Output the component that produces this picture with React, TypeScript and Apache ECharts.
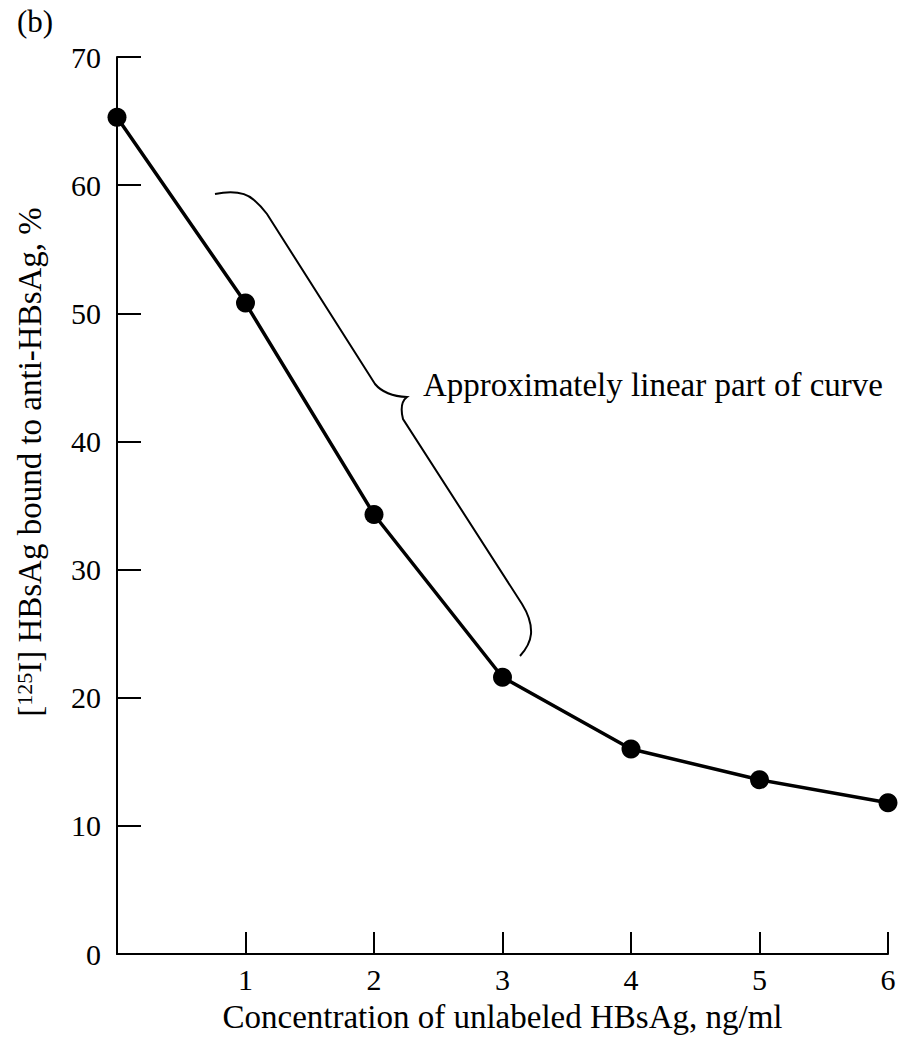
import React, { useEffect, useRef } from "react";
import * as echarts from "echarts";

const concentration = [0, 1, 2, 3, 4, 5, 6];
const boundPercent = [65.3, 50.8, 34.3, 21.6, 16.0, 13.6, 11.8];
const xTicks = [0, 1, 2, 3, 4, 5, 6];
const yTicks = [0, 10, 20, 30, 40, 50, 60, 70];
const panelLabel = "(b)";
const xTitle = "Concentration of unlabeled HBsAg, ng/ml";
const annotation = "Approximately linear part of curve";

const FONT = "Liberation Serif";

const bracePath =
  "M215,194 C230,191 244,191 254,200 Q261,206 267,214 L375,384 Q385,396 407,397 Q399,403 403,419 L522,604 Q532,620 531,634 Q530,645 520,656";

echarts.graphic.registerShape(
  "brace",
  echarts.graphic.extendPath(bracePath, {}) as any
);

export default function App() {
  const ref = useRef<HTMLDivElement>(null);
  useEffect(() => {
    if (!ref.current) return;
    const chart = echarts.init(ref.current, undefined, { renderer: "svg" });
    chart.setOption({
      animation: false,
      backgroundColor: "#ffffff",
      grid: { left: 117, right: 18, top: 57, bottom: 80, containLabel: false },
      xAxis: {
        type: "value",
        min: 0,
        max: 6,
        interval: 1,
        name: xTitle,
        nameLocation: "middle",
        nameGap: 46,
        nameTextStyle: { fontFamily: FONT, fontSize: 33, color: "#000" },
        axisLine: { show: true, onZero: false, lineStyle: { color: "#000", width: 2 } },
        axisTick: {
          show: true,
          inside: true,
          length: 22,
          lineStyle: { color: "#000", width: 2 },
        },
        axisLabel: {
          fontFamily: FONT,
          fontSize: 30,
          color: "#000",
          margin: 10,
          formatter: (v: number) => (v === 0 || !xTicks.includes(v) ? "" : String(v)),
        },
        splitLine: { show: false },
      },
      yAxis: {
        type: "value",
        min: 0,
        max: 70,
        interval: 10,
        axisLine: { show: true, onZero: false, lineStyle: { color: "#000", width: 2 } },
        axisTick: {
          show: true,
          inside: true,
          length: 24,
          lineStyle: { color: "#000", width: 2 },
        },
        axisLabel: {
          fontFamily: FONT,
          fontSize: 30,
          color: "#000",
          margin: 16,
          formatter: (v: number) => (yTicks.includes(v) ? String(v) : ""),
        },
        splitLine: { show: false },
      },
      series: [
        {
          type: "line",
          data: concentration.map((x, i) => [x, boundPercent[i]]),
          symbol: "circle",
          symbolSize: 19,
          lineStyle: { color: "#000", width: 3.5 },
          itemStyle: { color: "#000" },
          clip: false,
        },
      ],
      graphic: [
        {
          type: "text",
          left: 17,
          top: 6,
          style: { text: panelLabel, fontFamily: FONT, fontSize: 31, fill: "#000" },
        },
        {
          type: "text",
          x: 30,
          y: 462,
          rotation: Math.PI / 2,
          style: {
            text: "[{sup|125}I] HBsAg bound to anti-HBsAg, %",
            fontFamily: FONT,
            fontSize: 33,
            fill: "#000",
            align: "center",
            verticalAlign: "middle",
            rich: {
              sup: {
                fontFamily: FONT,
                fontSize: 22,
                verticalAlign: "top",
                padding: [0, 0, 12, 0],
                fill: "#000",
              },
            },
          },
        },
        {
          type: "brace",
          style: { fill: "none", stroke: "#000", lineWidth: 2 },
        },
        {
          type: "text",
          x: 423,
          y: 385,
          style: {
            text: annotation,
            fontFamily: FONT,
            fontSize: 33,
            fill: "#000",
            align: "left",
            verticalAlign: "middle",
          },
        },
      ],
    });
    return () => chart.dispose();
  }, []);
  return (
    <div
      ref={ref}
      style={{ position: "fixed", left: 0, top: 0, width: 906, height: 1038 }}
    />
  );
}
